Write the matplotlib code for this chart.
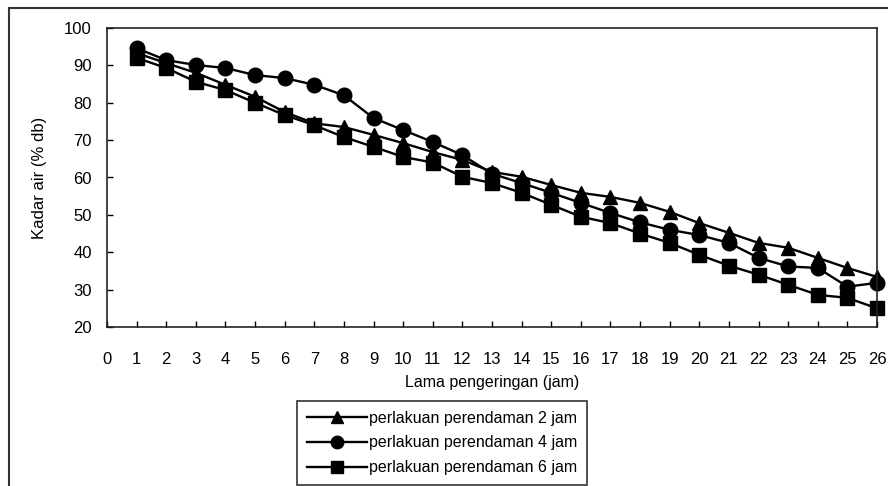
import numpy as np
import matplotlib
matplotlib.use("Agg")
import matplotlib.pyplot as plt
from matplotlib.lines import Line2D

plt.rcParams['font.family'] = ['Liberation Sans Narrow', 'Liberation Sans', 'DejaVu Sans']

# jam pengeringan
hours = list(range(1, 27))
# kadar air (% db) per perlakuan
soak_2h = [93.3, 90.6, 88.0, 84.8, 81.6, 77.5, 74.5, 73.5, 71.4, 69.2, 66.8, 64.7, 61.5,
           60.2, 58.0, 55.9, 54.8, 53.2, 50.8, 47.8, 45.2, 42.5, 41.2, 38.5, 35.8, 33.4]
soak_4h = [94.6, 91.4, 90.1, 89.3, 87.4, 86.6, 84.8, 82.0, 75.9, 72.7, 69.5, 66.0, 61.0,
           58.5, 55.9, 53.2, 50.5, 48.0, 46.0, 44.6, 42.5, 38.5, 36.2, 35.8, 30.8, 31.8]
soak_6h = [92.0, 89.3, 85.6, 83.4, 80.0, 76.7, 74.0, 70.8, 68.2, 65.5, 64.0, 60.2, 58.5,
           55.9, 52.7, 49.5, 47.8, 45.0, 42.5, 39.3, 36.4, 34.0, 31.3, 28.6, 27.8, 25.0]

labels = ['perlakuan perendaman 2 jam', 'perlakuan perendaman 4 jam', 'perlakuan perendaman 6 jam']
markers = ['^', 'o', 's']

fig = plt.figure(figsize=(8.88, 4.86), dpi=100)
ax = fig.add_axes([107/888, 1-327/486, (877-107)/888, (327-28)/486])

for series, m in zip([soak_2h, soak_4h, soak_6h], markers):
    ax.plot(hours, series, color='black', lw=1.7, marker=m, ms=10.5, mfc='black', mec='black', clip_on=False)

ax.set_xlim(0, 26)
ax.set_ylim(20, 100)
ax.set_xticks(range(0, 27))
ax.set_yticks(range(20, 101, 10))
ax.tick_params(direction='in', length=4, width=1, labelsize=12, colors='black')
ax.tick_params(axis='x', pad=18)
ax.tick_params(axis='y', pad=11)
for s in ax.spines.values():
    s.set_linewidth(1.2)
    s.set_color('#222222')
ax.set_xlabel('Lama pengeringan (jam)', fontsize=11.5, labelpad=6)
ax.set_ylabel('Kadar air (% db)', fontsize=12, labelpad=12)

handles = [Line2D([], [], color='black', lw=1.7, marker=m, ms=9) for m in markers]
leg = fig.legend(handles, labels, loc='upper left', bbox_to_anchor=(297/888, 1-401/486),
                 fontsize=11.5, frameon=True, fancybox=False, edgecolor='black',
                 handlelength=3.8, handletextpad=0.1, labelspacing=0.62, borderpad=0.6,
                 borderaxespad=0)
leg.get_frame().set_linewidth(1.2)

# outer frame of the figure
fig.add_artist(Line2D([9/888, 9/888], [0, 1-8/486], color='#333333', lw=1.5, transform=fig.transFigure))
fig.add_artist(Line2D([9/888, 1], [1-8/486, 1-8/486], color='#333333', lw=1.5, transform=fig.transFigure))

fig.savefig('out.png', dpi=100)
